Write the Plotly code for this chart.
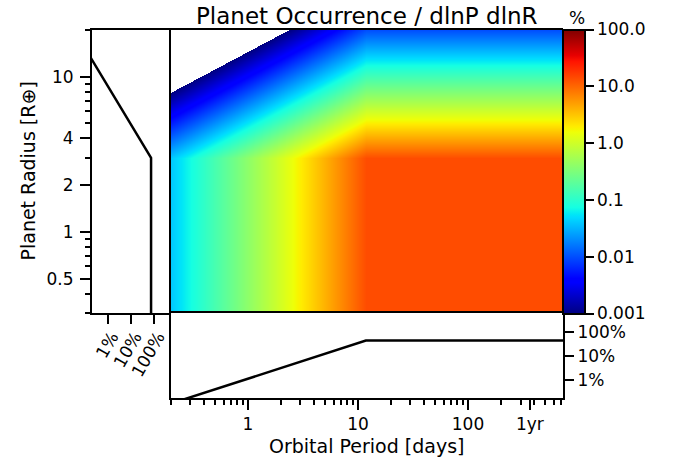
import numpy as np
import plotly.graph_objects as go

# ---------------- data ----------------
# 2D occurrence map, % per dlnP dlnR, at grid nodes
period_nodes = [0.2, 11.8, 730.0]          # days
radius_nodes = [0.3, 3.0, 20.0]            # Earth radii
occ_grid = [                               # rows = radius_nodes, cols = period_nodes
    [0.041, 14.0, 14.0],
    [0.041, 14.0, 14.0],
    [0.00003, 0.0103, 0.0103],
]

# marginal distribution vs period (bottom panel), %
period_marg_P = [0.2, 11.8, 730.0]
period_marg_occ = [0.105, 42.5, 42.5]

# marginal distribution vs radius (left panel), %
radius_marg_R = [0.3, 3.0, 20.0]
radius_marg_occ = [74.0, 74.0, 0.035]

period_ticks = [1, 10, 100, 365]
period_ticklabels = ["1", "10", "100", "1yr"]
radius_ticks = [0.5, 1, 2, 4, 10]
radius_ticklabels = ["0.5", "1", "2", "4", "10"]
pct_ticks = [1, 10, 100]
pct_ticklabels = ["1%", "10%", "100%"]
cbar_ticks = [0.001, 0.01, 0.1, 1, 10, 100]
cbar_ticklabels = ["0.001", "0.01", "0.1", "1.0", "10.0", "100.0"]

P_RANGE = [0.2, 730.0]
R_RANGE = [0.3, 20.0]
PCT_RANGE_B = [10 ** -0.75, 10 ** 2.77]
PCT_RANGE_L = [10 ** -0.68, 10 ** 2.73]

# ---------------- styling ----------------
W, H = 689, 464
FONT = "DejaVu Sans"

def px_x(p):
    return p / W

def px_y(p):
    return 1 - p / H

# matplotlib 'jet'
jet_stops = [
    (0.0, (0, 0, 0.5)), (0.11, (0, 0, 1)), (0.125, (0, 0, 1)),
    (0.34, (0, 0.86, 1)), (0.35, (0, 0.9, 0.968)), (0.375, (0.081, 1, 0.887)),
    (0.64, (0.935, 1, 0.032)), (0.65, (0.968, 0.963, 0)), (0.66, (1, 0.926, 0)),
    (0.89, (1, 0.074, 0)), (0.91, (0.909, 0, 0)), (1.0, (0.5, 0, 0)),
]

def rgb(c):
    return "rgb(%d,%d,%d)" % tuple(round(v * 255) for v in c)

jet = [[t, rgb(c)] for t, c in jet_stops]

CMIN, CMAX = np.log10(cbar_ticks[0]), np.log10(cbar_ticks[-1])
WHITE_W = 0.05
zmin_main = CMIN - WHITE_W
f0 = WHITE_W / (CMAX - zmin_main)
jet_white = [[0.0, "white"], [f0, "white"]] + [[f0 + t * (1 - f0), rgb(c)] for t, c in jet_stops]

z_log = np.log10(np.array(occ_grid, dtype=float))

fig = go.Figure()

fig.add_trace(go.Heatmap(
    x=period_nodes, y=radius_nodes, z=z_log,
    zmin=zmin_main, zmax=CMAX, colorscale=jet_white, zsmooth="best",
    showscale=False, xaxis="x", yaxis="y", hoverinfo="skip",
))

# colorbar (library colorbar from a hidden scatter)
fig.add_trace(go.Scatter(
    x=[1], y=[1], mode="markers", xaxis="x", yaxis="y", hoverinfo="skip",
    marker=dict(size=1, opacity=0, color=[0], cmin=CMIN, cmax=CMAX, colorscale=jet,
                showscale=True,
                colorbar=dict(
                    x=px_x(563), xanchor="left", y=px_y(171.5), yanchor="middle",
                    lenmode="pixels", len=284, thickness=22, xpad=0, ypad=0,
                    outlinewidth=2, outlinecolor="black",
                    tickvals=list(np.log10(cbar_ticks)), ticktext=cbar_ticklabels,
                    ticks="outside", ticklen=8, tickwidth=1.5, tickcolor="black",
                    tickfont=dict(family=FONT, size=17, color="black"),
                )),
    showlegend=False,
))

# bottom marginal
fig.add_trace(go.Scatter(
    x=period_marg_P, y=period_marg_occ, mode="lines",
    line=dict(color="black", width=2.5), xaxis="x2", yaxis="y2",
    showlegend=False, hoverinfo="skip",
))

# left marginal
fig.add_trace(go.Scatter(
    x=radius_marg_occ, y=radius_marg_R, mode="lines",
    line=dict(color="black", width=2.5), xaxis="x3", yaxis="y3",
    showlegend=False, hoverinfo="skip",
))

def minor_vals(lo, hi, exclude):
    out = []
    for e in range(-2, 4):
        for m in range(2, 10):
            v = m * 10.0 ** e
            if lo * 0.999 <= v <= hi * 1.001 and all(abs(v - x) > 1e-9 for x in exclude):
                out.append(v)
    return out

x_main = [px_x(171), px_x(563)]
y_main = [px_y(313), px_y(30)]
y_bot = [px_y(398), px_y(313)]
x_left = [px_x(92), px_x(171)]

frame = dict(showline=True, linecolor="black", linewidth=2, mirror=True,
             showgrid=False, zeroline=False)
single = dict(showline=True, linecolor="black", linewidth=2, mirror=False,
              showgrid=False, zeroline=False)
tickfont = dict(family=FONT, size=17, color="black")

fig.update_layout(
    width=W, height=H, margin=dict(l=0, r=0, t=0, b=0),
    paper_bgcolor="white", plot_bgcolor="white",
    font=dict(family=FONT, color="black"),
    showlegend=False,
    xaxis=dict(domain=x_main, anchor="y", type="log", side="top",
               range=[np.log10(P_RANGE[0]), np.log10(P_RANGE[1])],
               showticklabels=False, ticks="", **single),
    yaxis=dict(domain=y_main, anchor="x", type="log", side="left",
               range=[np.log10(R_RANGE[0]), np.log10(R_RANGE[1])],
               showticklabels=False, ticks="", **single),
    xaxis2=dict(domain=x_main, anchor="y2", type="log",
                range=[np.log10(P_RANGE[0]), np.log10(P_RANGE[1])],
                tickvals=period_ticks, ticktext=period_ticklabels,
                ticks="outside", ticklen=10, tickwidth=1.5, tickcolor="black",
                tickfont=tickfont,
                minor=dict(tickvals=minor_vals(P_RANGE[0], P_RANGE[1], period_ticks),
                           ticks="outside", ticklen=5, tickwidth=1.5, tickcolor="black"),
                **frame),
    yaxis2=dict(domain=y_bot, anchor="x2", type="log", side="right",
                range=[np.log10(PCT_RANGE_B[0]), np.log10(PCT_RANGE_B[1])],
                tickvals=pct_ticks, ticktext=pct_ticklabels,
                ticks="outside", ticklen=9, tickwidth=1.5, tickcolor="black",
                tickfont=tickfont, **frame),
    xaxis3=dict(domain=x_left, anchor="y3", type="log",
                range=[np.log10(PCT_RANGE_L[0]), np.log10(PCT_RANGE_L[1])],
                tickvals=pct_ticks, ticktext=pct_ticklabels, tickangle=-60,
                ticks="outside", ticklen=9, tickwidth=1.5, tickcolor="black",
                tickfont=tickfont, ticklabelshift=4, ticklabelstandoff=-4, **frame),
    yaxis3=dict(domain=y_main, anchor="x3", type="log",
                range=[np.log10(R_RANGE[0]), np.log10(R_RANGE[1])],
                tickvals=radius_ticks, ticktext=radius_ticklabels,
                ticks="outside", ticklen=10, tickwidth=1.5, tickcolor="black",
                tickfont=tickfont, ticklabelstandoff=3,
                minor=dict(tickvals=minor_vals(R_RANGE[0], R_RANGE[1], radius_ticks),
                           ticks="outside", ticklen=5, tickwidth=1.5, tickcolor="black"),
                **single),
    annotations=[
        dict(text="Planet Occurrence / dlnP dlnR", x=px_x(366.5), y=px_y(16),
             xref="paper", yref="paper", xanchor="center", yanchor="middle",
             showarrow=False, font=dict(family=FONT, size=23, color="black")),
        dict(text="%", x=px_x(577), y=px_y(18), xref="paper", yref="paper",
             xanchor="center", yanchor="middle", showarrow=False,
             font=dict(family=FONT, size=17, color="black")),
        dict(text="Orbital Period [days]", x=px_x(366.5), y=px_y(446),
             xref="paper", yref="paper", xanchor="center", yanchor="middle",
             showarrow=False, font=dict(family=FONT, size=19, color="black")),
        dict(text="Planet Radius [R⊕]", x=px_x(27), y=px_y(171.5),
             xref="paper", yref="paper", xanchor="center", yanchor="middle",
             textangle=-90, showarrow=False,
             font=dict(family=FONT, size=19, color="black")),
    ],
)

fig.write_html("out.html")
